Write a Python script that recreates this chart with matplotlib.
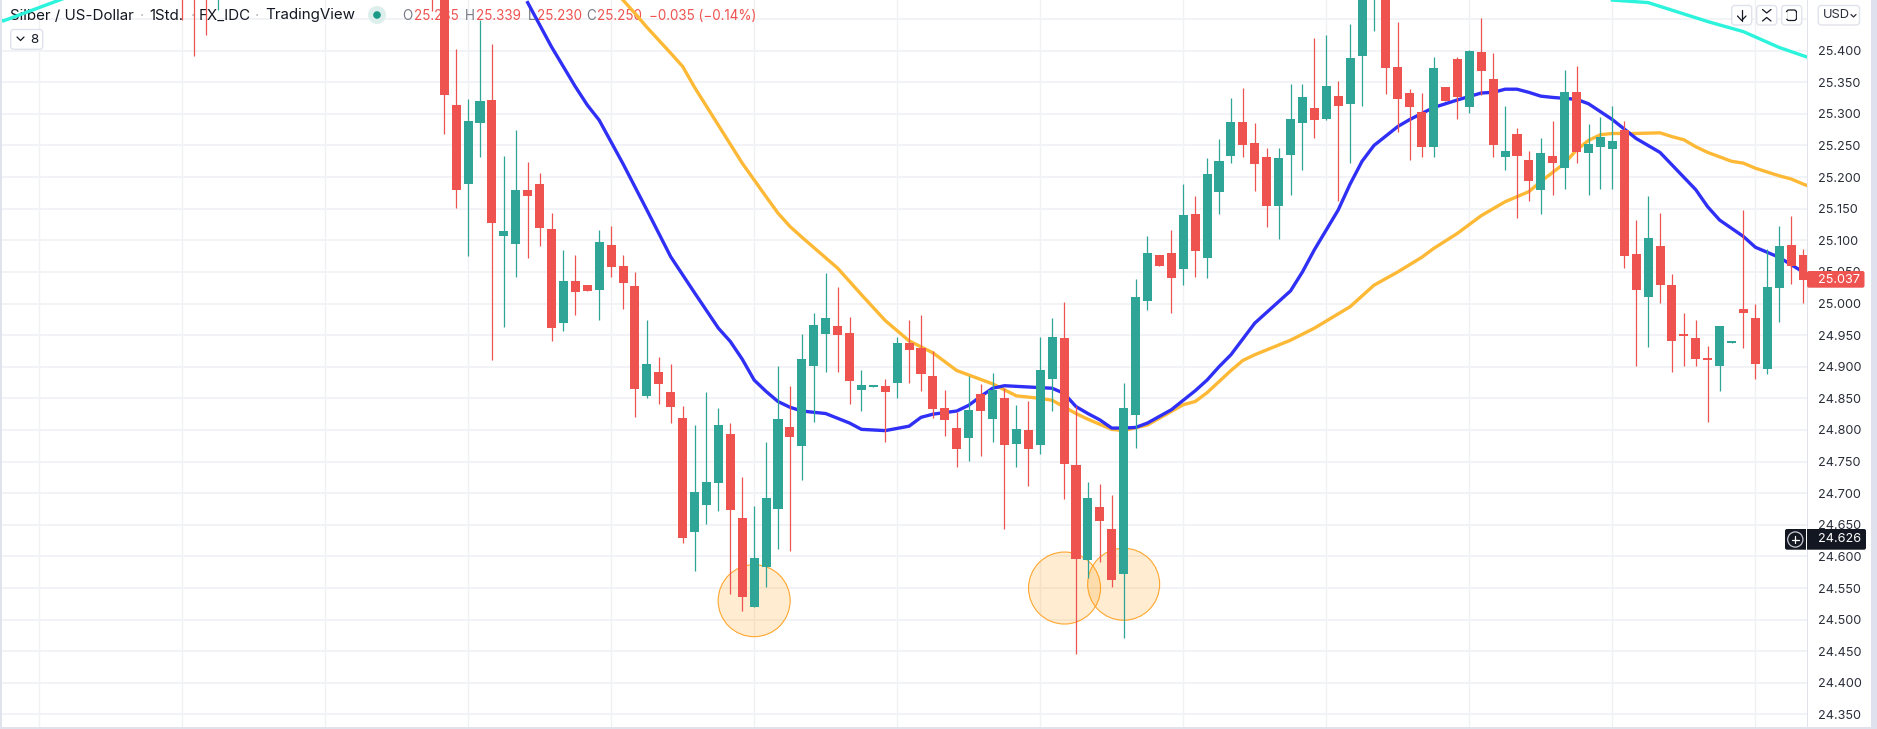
import matplotlib
matplotlib.use("Agg")
import matplotlib.pyplot as plt
from matplotlib.patches import Ellipse, FancyBboxPatch, Rectangle, Circle
from matplotlib.lines import Line2D
from matplotlib.transforms import Affine2D

plt.rcParams['font.family'] = ['Inter', 'DejaVu Sans']

# ---------- data ----------
candle_index = [0, 1, 2, 3] + list(range(21, 137))
opens = [25.54, 25.56, 25.54, 25.50,
    25.58, 25.56, 25.314, 25.189, 25.286, 25.322, 25.107, 25.094, 25.180, 25.189,
    25.118, 24.969, 25.036, 25.029, 25.021, 25.093, 25.059, 25.028, 24.854, 24.892,
    24.860, 24.819, 24.639, 24.681, 24.716, 24.794, 24.661, 24.520, 24.583, 24.675,
    24.805, 24.774, 24.901, 24.952, 24.964, 24.953, 24.863, 24.868, 24.870, 24.874,
    24.938, 24.930, 24.885, 24.835, 24.803, 24.787, 24.857, 24.817, 24.851, 24.778,
    24.800, 24.776, 24.881, 24.946, 24.745, 24.594, 24.678, 24.643, 24.572, 24.824,
    25.004, 25.077, 25.080, 25.055, 25.142, 25.072, 25.176, 25.233, 25.287, 25.254,
    25.232, 25.154, 25.235, 25.286, 25.309, 25.292, 25.328, 25.316, 25.392, 25.50,
    25.52, 25.374, 25.333, 25.303, 25.248, 25.343, 25.387, 25.311, 25.398, 25.355,
    25.232, 25.268, 25.227, 25.180, 25.233, 25.214, 25.335, 25.238, 25.248, 25.244,
    25.274, 25.078, 25.010, 25.091, 25.029, 24.952, 24.946, 24.914, 24.901, 24.938,
    24.991, 24.977, 24.896, 25.025, 25.093, 25.077]
highs = [25.56, 25.58, 25.56, 25.55,
    25.60, 25.58, 25.403, 25.323, 25.448, 25.410, 25.233, 25.274, 25.224, 25.206,
    25.143, 25.085, 25.077, 25.029, 25.116, 25.123, 25.077, 25.050, 24.974, 24.915,
    24.904, 24.838, 24.808, 24.860, 24.835, 24.811, 24.726, 24.680, 24.781, 24.901,
    24.870, 24.952, 24.985, 25.048, 25.026, 24.979, 24.895, 24.871, 24.881, 24.947,
    24.974, 24.982, 24.925, 24.863, 24.828, 24.885, 24.873, 24.890, 24.866, 24.840,
    24.846, 24.947, 24.977, 25.002, 24.838, 24.718, 24.714, 24.697, 24.874, 25.039,
    25.107, 25.077, 25.116, 25.189, 25.170, 25.230, 25.260, 25.325, 25.341, 25.286,
    25.246, 25.246, 25.347, 25.347, 25.420, 25.425, 25.352, 25.442, 25.53, 25.58,
    25.54, 25.445, 25.339, 25.333, 25.390, 25.343, 25.390, 25.401, 25.452, 25.396,
    25.312, 25.278, 25.241, 25.262, 25.289, 25.369, 25.376, 25.284, 25.295, 25.312,
    25.289, 25.132, 25.170, 25.143, 25.047, 24.985, 24.974, 24.933, 24.964, 24.941,
    25.148, 24.999, 25.086, 25.123, 25.138, 25.086]
lows = [25.448, 25.392, 25.425, 25.464,
    25.462, 25.268, 25.151, 25.075, 25.232, 24.911, 24.963, 25.042, 25.072, 25.091,
    24.941, 24.957, 24.982, 25.020, 24.974, 25.042, 24.991, 24.821, 24.851, 24.841,
    24.811, 24.621, 24.577, 24.651, 24.672, 24.541, 24.514, 24.520, 24.552, 24.612,
    24.609, 24.721, 24.812, 24.892, 24.892, 24.841, 24.830, 24.868, 24.781, 24.851,
    24.874, 24.862, 24.819, 24.791, 24.741, 24.751, 24.759, 24.781, 24.643, 24.741,
    24.711, 24.762, 24.830, 24.691, 24.446, 24.566, 24.591, 24.552, 24.471, 24.771,
    24.990, 25.059, 24.985, 25.029, 25.042, 25.040, 25.142, 25.222, 25.232, 25.178,
    25.121, 25.102, 25.172, 25.211, 25.262, 25.290, 25.162, 25.222, 25.312, 25.431,
    25.331, 25.271, 25.227, 25.232, 25.232, 25.320, 25.292, 25.301, 25.330, 25.232,
    25.211, 25.135, 25.162, 25.142, 25.172, 25.181, 25.222, 25.172, 25.181, 25.181,
    25.056, 24.901, 24.931, 25.001, 24.892, 24.901, 24.901, 24.812, 24.862, 24.938,
    24.930, 24.881, 24.889, 24.971, 25.031, 25.001]
closes = [25.50, 25.52, 25.50, 25.53,
    25.52, 25.330, 25.180, 25.289, 25.320, 25.127, 25.115, 25.180, 25.170, 25.119,
    24.961, 25.036, 25.018, 25.020, 25.097, 25.058, 25.033, 24.865, 24.904, 24.873,
    24.836, 24.629, 24.702, 24.718, 24.808, 24.673, 24.536, 24.598, 24.692, 24.817,
    24.789, 24.912, 24.966, 24.977, 24.950, 24.878, 24.871, 24.871, 24.860, 24.938,
    24.927, 24.889, 24.833, 24.816, 24.770, 24.832, 24.830, 24.863, 24.776, 24.802,
    24.770, 24.895, 24.947, 24.746, 24.596, 24.692, 24.656, 24.563, 24.835, 25.010,
    25.080, 25.059, 25.040, 25.140, 25.083, 25.205, 25.225, 25.287, 25.251, 25.221,
    25.154, 25.230, 25.292, 25.327, 25.290, 25.344, 25.312, 25.388, 25.51, 25.56,
    25.373, 25.323, 25.311, 25.248, 25.373, 25.320, 25.327, 25.399, 25.368, 25.251,
    25.241, 25.233, 25.194, 25.238, 25.222, 25.335, 25.240, 25.252, 25.263, 25.257,
    25.075, 25.021, 25.104, 25.029, 24.941, 24.949, 24.912, 24.911, 24.964, 24.941,
    24.985, 24.904, 25.026, 25.091, 25.059, 25.037]

blue_index = [29, 31, 33, 34, 35, 37, 39, 41, 43, 45, 46, 47, 48, 49, 50, 51, 52, 53, 54, 56, 57, 59, 61, 62, 63,
              65, 66, 67, 68, 69, 73, 74, 75, 76, 77, 78, 79, 80, 81, 83, 85, 86, 87, 88, 90, 93, 94, 95, 97, 98,
              99, 100, 102, 103, 105, 107, 109, 110, 111, 112, 113, 114, 115, 117, 118, 120, 122, 124, 127, 128,
              129, 131, 132, 134, 136]
blue_ma = [25.476, 25.406, 25.343, 25.314, 25.290, 25.221, 25.148, 25.074, 25.017, 24.961, 24.940, 24.912, 24.879,
           24.861, 24.845, 24.836, 24.830, 24.828, 24.826, 24.811, 24.801, 24.799, 24.806, 24.820, 24.825,
           24.830, 24.839, 24.853, 24.866, 24.870, 24.866, 24.858, 24.837, 24.826, 24.816, 24.803, 24.803, 24.804,
           24.811, 24.832, 24.862, 24.879, 24.900, 24.919, 24.969, 25.020, 25.050, 25.085, 25.148, 25.189,
           25.225, 25.250, 25.280, 25.291, 25.310, 25.322, 25.333, 25.334, 25.339, 25.339, 25.334, 25.328, 25.326,
           25.323, 25.316, 25.291, 25.261, 25.239, 25.180, 25.153, 25.132, 25.106, 25.089, 25.073, 25.050]

orange_index = [37, 38, 39, 41, 42, 43, 45, 46, 47, 49, 50, 51, 52, 55, 57, 59, 61, 63, 65, 68, 70, 72, 73, 75, 76,
                78, 79, 81, 84, 85, 86, 88, 89, 90, 93, 95, 98, 100, 102, 104, 105, 107, 109, 111, 113, 114, 116,
                117, 118, 119, 120, 122, 124, 125, 126, 127, 128, 130, 131, 132, 134, 135, 136, 137]
orange_ma = [25.480, 25.459, 25.437, 25.396, 25.375, 25.342, 25.282, 25.252, 25.222, 25.169, 25.143, 25.122, 25.105,
             25.056, 25.014, 24.973, 24.941, 24.922, 24.894, 24.873, 24.854, 24.850, 24.847, 24.826, 24.817,
             24.801, 24.799, 24.808, 24.840, 24.845, 24.859, 24.894, 24.910, 24.919, 24.942, 24.961, 24.995, 25.029,
             25.050, 25.073, 25.087, 25.111, 25.139, 25.161, 25.177, 25.193, 25.222,
             25.243, 25.258, 25.267, 25.269, 25.269, 25.270, 25.264, 25.259, 25.248, 25.239, 25.225, 25.222, 25.214,
             25.202, 25.197, 25.189, 25.182]

cyan_left_index = [-16, -15, -10]
cyan_left_ma = [25.452, 25.447, 25.482]
cyan_right_index = [120, 123, 125, 128, 131, 134, 136, 137]
cyan_right_ma = [25.480, 25.476, 25.464, 25.446, 25.430, 25.405, 25.392, 25.386]

circle_index = [48, 74.04, 79]
circle_price = [24.530, 24.550, 24.556]

grid_prices = [round(24.35 + 0.05 * k, 3) for k in range(23)]
hidden_label = 25.45
grid_index = list(range(-12, 133, 12))

header_parts = ["Silber / US-Dollar", "1Std.", "FX_IDC", "TradingView"]
ohlc_text = ["25.285", "25.339", "25.230", "25.250"]
change_text = "\u22120.035 (\u22120.14%)"
last_price = "25.037"
cross_price = "24.626"

# ---------- colours ----------
GREEN = "#2EA597"
RED = "#EF5350"
BLUE = "#2F2FF5"
ORANGE = "#FDB935"
CYAN = "#2BF3DC"
GRID = "#F2F3F6"
BORDER = "#E0E3EB"
INK = "#131722"
MUTED = "#787B86"

# ---------- figure ----------
W, H = 1877, 729
fig = plt.figure(figsize=(W / 100, H / 100), dpi=100, facecolor="white")
ax = fig.add_axes([0, 2 / H, 1807 / W, 727 / H])
ax.set_facecolor("white")
ax.set_xlim(-15.27, 136.33)
ax.set_ylim(24.3302, 25.4801)
for s in ax.spines.values():
    s.set_visible(False)
ax.set_axisbelow(True)
ax.yaxis.tick_right()
ax.set_yticks(grid_prices)
ax.set_yticklabels(["" if abs(p - hidden_label) < 1e-6 else f"{p:.3f}" for p in grid_prices],
                   fontsize=9.1, color="#2A2E39")
ax.set_xticks(grid_index)
ax.set_xticklabels([])
ax.tick_params(axis="both", length=0)
ax.tick_params(axis="y", pad=7.6)
ax.grid(axis="y", color=GRID, lw=1.4)
ax.grid(axis="x", color="#F0F1F4", lw=1.0)

px = Affine2D().scale(1, -1).translate(0, H)  # chrome placed in picture pixels


def chrome_text(x, y, s, color=INK, size=10.0, z=1.0, ha="left", **kw):
    return ax.text(x, y, s, transform=px, color=color, fontsize=size, ha=ha, va="center",
                   zorder=z, clip_on=False, **kw)


def chrome_line(xs, ys, color=INK, lw=0.9, z=6):
    ax.add_line(Line2D(xs, ys, transform=px, color=color, lw=lw, zorder=z, clip_on=False,
                       solid_capstyle="round"))


def chrome_box(x0, y0, x1, y1, face="white", edge=BORDER, lw=1.0, r=3, z=5):
    ax.add_patch(FancyBboxPatch((x0 + r, y0 + r), x1 - x0 - 2 * r, y1 - y0 - 2 * r,
                                boxstyle=f"round,pad={r},rounding_size={r}", transform=px,
                                fc=face, ec=edge, lw=lw, zorder=z, clip_on=False))


# header (sits beneath the candles, as in the source)
for x, s in zip([10.5, 149, 199, 265], header_parts):
    chrome_text(x, 15.5, s, size=10.9)
for x in [141.7, 193, 257.5]:
    chrome_text(x, 15.5, "\u00b7", color="#B2B5BE", size=10.9, ha="center")
ax.add_patch(Circle((377, 15), 9, transform=px, fc="#DDEFEC", ec="none", zorder=1, clip_on=False))
ax.add_patch(Circle((377, 15), 3.8, transform=px, fc="#1B9A85", ec="none", zorder=1.1, clip_on=False))
for x, s in zip([402.7, 465, 527.7, 586.7], "OHLC"):
    chrome_text(x, 16.5, s, color=MUTED, size=9.7)
for x, s in zip([414, 476, 536.7, 597.3], ohlc_text):
    chrome_text(x, 16.5, s, color=RED, size=9.7)
chrome_text(649.3, 16.5, change_text, color=RED, size=9.7)

# "8" collapse button
chrome_box(10.7, 29.5, 42.7, 49.3)
chrome_line([17, 20.5, 24], [37, 40.5, 37], lw=0.9)
chrome_text(30.5, 40, "8", size=9.6, z=6)

# highlighted circles
for i, p in zip(circle_index, circle_price):
    ax.add_patch(Ellipse((i, p), 72 / 11.92, 72 / 632.2, fc=(1.0, 0.596, 0.0, 0.18),
                         ec=(1.0, 0.62, 0.1, 0.9), lw=0.8, zorder=1.5))

# moving averages
ax.plot(cyan_left_index, cyan_left_ma, color=CYAN, lw=2.4, zorder=2)
ax.plot(cyan_right_index, cyan_right_ma, color=CYAN, lw=2.4, zorder=2)
ax.plot(orange_index, orange_ma, color=ORANGE, lw=2.4, zorder=2)
ax.plot(blue_index, blue_ma, color=BLUE, lw=2.4, zorder=2.1)

# candles
colors = [GREEN if c >= o else RED for o, c in zip(opens, closes)]
ax.vlines(candle_index, lows, highs, colors=colors, lw=0.9, zorder=3)
ax.bar(candle_index, [abs(c - o) for o, c in zip(opens, closes)],
       bottom=[min(o, c) for o, c in zip(opens, closes)], width=0.76, color=colors, lw=0, zorder=3.1)

# frame pieces
ax.add_patch(Rectangle((0, 0), 1.5, H, transform=px, fc=BORDER, ec="none", zorder=7, clip_on=False))
ax.add_patch(Rectangle((0, 726.5), W, 2.5, transform=px, fc=BORDER, ec="none", zorder=7, clip_on=False))
ax.add_patch(Rectangle((1806.5, 0), 1.5, H, transform=px, fc=BORDER, ec="none", zorder=7, clip_on=False))
ax.add_patch(Rectangle((1871, 0), 6, H, transform=px, fc="#DFE2EE", ec="none", zorder=7, clip_on=False))

# top-right buttons
chrome_box(1731.7, 5.5, 1751.7, 25)
chrome_line([1741.7, 1741.7], [10, 20.5])
chrome_line([1737.5, 1741.7, 1746], [16, 20.5, 16])
chrome_box(1756.7, 5.5, 1776.7, 25)
chrome_line([1762.5, 1766.7, 1771], [9.5, 13, 9.5])
chrome_line([1762.5, 1766.7, 1771], [21, 17.5, 21])
chrome_box(1781.7, 5.5, 1801.7, 25)
chrome_box(1786.5, 10, 1796.5, 20.5, edge=INK, lw=0.9, r=2.5, z=6)
chrome_line([1785.5, 1785.5], [13, 17.5], color="white", lw=1.6, z=6.1)
chrome_line([1797.5, 1797.5], [13, 17.5], color="white", lw=1.6, z=6.1)
chrome_box(1818.3, 5.5, 1859.5, 25)
chrome_text(1823, 15.5, "USD", size=9.3, color="#2A2E39", z=6)
chrome_line([1851, 1853.5, 1856], [14.5, 17, 14.5], color="#2A2E39", lw=0.9)

# last-price tag
ax.add_patch(FancyBboxPatch((1807, 271), 57.5, 16.7, boxstyle="round,pad=0,rounding_size=2", transform=px,
                            fc=RED, ec="none", zorder=8, clip_on=False))
chrome_text(1817.7, 279.7, last_price, color="white", size=9.1, z=9)

# crosshair tag
ax.add_patch(FancyBboxPatch((1785, 529), 81, 20.7, boxstyle="round,pad=0,rounding_size=2", transform=px,
                            fc=INK, ec="none", zorder=8, clip_on=False))
ax.add_patch(Rectangle((1806, 529), 1.2, 20.7, transform=px, fc="white", ec="none", zorder=8.5, clip_on=False))
ax.add_patch(Circle((1795.3, 539.5), 7.6, transform=px, fc="none", ec="#C9CBD1", lw=0.9, zorder=9, clip_on=False))
chrome_line([1791.5, 1799], [539.5, 539.5], color="white", lw=0.9, z=9)
chrome_line([1795.3, 1795.3], [535.7, 543.3], color="white", lw=0.9, z=9)
chrome_text(1817.7, 539.5, cross_price, color="white", size=9.1, z=9)

fig.savefig("out.png", dpi=100, facecolor="white")
